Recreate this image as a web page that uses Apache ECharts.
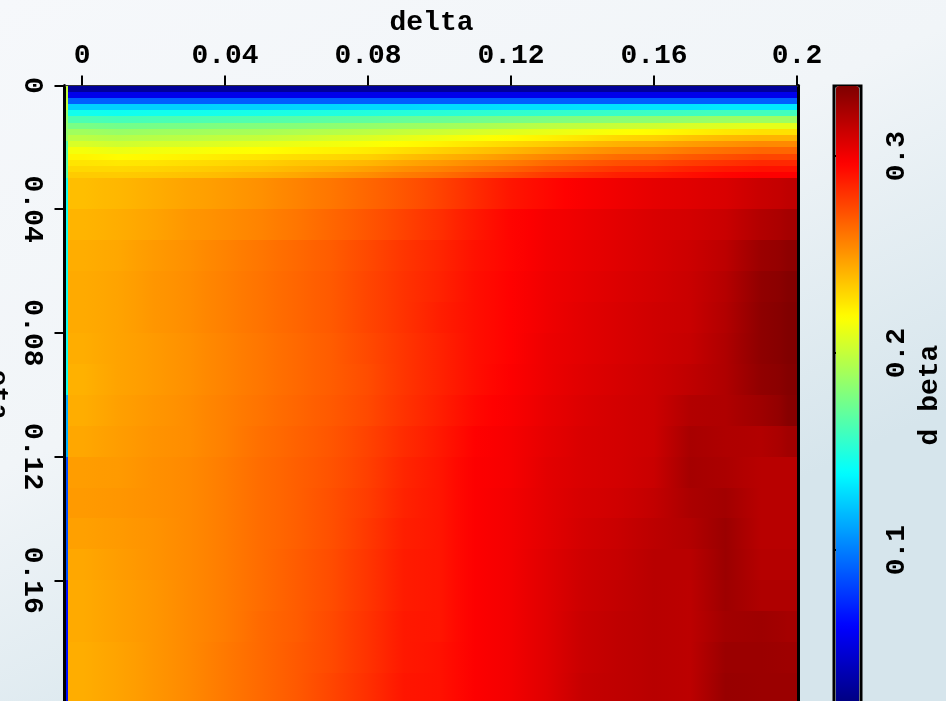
<!DOCTYPE html>
<html><head><meta charset="utf-8">
<script src="https://cdn.jsdelivr.net/npm/echarts@6/dist/echarts.min.js"></script>
<style>html,body{margin:0;padding:0;background:#f3f6f9;}#c{width:946px;height:701px;}</style>
</head><body><div id="c"></div>
<script>
// cell boundaries (delta along x, eta along y)
const xEdges = [-0.0045, -0.004, 0.005, 0.015, 0.025, 0.035, 0.045, 0.055, 0.065, 0.075, 0.085, 0.095,
  0.105, 0.115, 0.125, 0.135, 0.145, 0.155, 0.165, 0.175, 0.185, 0.195, 0.2];
const yEdges = [0, 0.002, 0.004, 0.006, 0.008, 0.010, 0.012, 0.014, 0.016, 0.018, 0.020, 0.022, 0.024, 0.026, 0.028, 0.030,
  0.04, 0.05, 0.06, 0.07, 0.08, 0.09, 0.10, 0.11, 0.12, 0.13, 0.14, 0.15, 0.16, 0.17, 0.18, 0.19, 0.20];
const xTicks = [0, 0.04, 0.08, 0.12, 0.16, 0.2];
const colorbarTicks = [0.1, 0.2, 0.3];
const dbetaMin = 0.0219, dbetaMax = 0.3356;

// d beta values, one array per delta column, top (eta=0) to bottom
const colEdge = [.2,.2,.2,.2,.185,.185,.185,.185,.185,.165,.165,.165,.165,.165,.165, .145,.145, .145,.145,.145,.145,.145,.115,.115,.085,.085,.085,.085,.065,.065,.065,.065];
const col00 = [.03,.055,.09,.125,.145,.163,.177,.189,.197,.206,.215,.221,.226,.23,.234, .238,.241, .243,.244,.244,.243,.242,.243,.245,.248,.249,.247,.245,.244,.244,.243,.243];
const col01 = [.03,.055,.09,.125,.144,.161,.175,.186,.195,.203,.212,.219,.225,.23,.234, .24,.243, .245,.246,.246,.246,.246,.247,.248,.249,.25,.249,.248,.247,.247,.246,.246];
const col02 = [.03,.055,.09,.125,.145,.162,.176,.188,.196,.205,.214,.22,.226,.231,.235, .243,.246, .249,.25,.25,.249,.249,.25,.251,.252,.252,.251,.251,.25,.25,.25,.25];
const col03 = [.03,.055,.09,.125,.145,.163,.177,.189,.197,.206,.215,.222,.228,.233,.237, .246,.25, .252,.253,.253,.252,.252,.253,.253,.254,.254,.254,.254,.254,.254,.254,.254];
const col04 = [.03,.055,.09,.126,.146,.164,.179,.19,.199,.208,.217,.224,.23,.235,.239, .249,.253, .256,.257,.257,.256,.256,.257,.257,.258,.258,.258,.258,.258,.258,.259,.259];
const col05 = [.03,.055,.09,.126,.147,.165,.18,.191,.2,.21,.218,.226,.232,.237,.242, .252,.256, .26,.261,.261,.26,.26,.261,.262,.263,.263,.263,.263,.263,.264,.264,.264];
const col06 = [.03,.055,.09,.127,.148,.166,.181,.193,.202,.212,.22,.228,.235,.24,.245, .256,.26, .264,.265,.265,.264,.264,.265,.266,.267,.267,.267,.268,.268,.268,.269,.269];
const col07 = [.03,.055,.09,.127,.149,.168,.183,.195,.205,.214,.222,.23,.237,.243,.249, .26,.265, .268,.269,.269,.268,.268,.269,.27,.271,.272,.272,.273,.273,.274,.274,.275];
const col08 = [.03,.055,.09,.128,.15,.169,.185,.197,.207,.216,.224,.232,.24,.247,.253, .265,.27, .274,.275,.275,.274,.273,.274,.276,.277,.278,.279,.28,.28,.281,.281,.282];
const col09 = [.03,.055,.09,.128,.151,.171,.187,.2,.21,.219,.228,.237,.245,.252,.258, .27,.276, .28,.281,.281,.28,.28,.281,.283,.285,.286,.287,.288,.288,.289,.289,.29];
const col10 = [.03,.055,.09,.129,.152,.172,.189,.202,.213,.222,.232,.241,.249,.256,.262, .276,.282, .285,.286,.287,.286,.286,.287,.289,.29,.29,.29,.29,.29,.29,.291,.291];
const col11 = [.03,.055,.09,.129,.153,.174,.191,.205,.216,.226,.236,.245,.254,.261,.268, .283,.289, .291,.292,.292,.292,.292,.294,.296,.297,.297,.297,.297,.297,.297,.297,.297];
const col12 = [.03,.055,.09,.13,.154,.176,.194,.208,.219,.23,.24,.25,.258,.266,.273, .29,.295, .295,.296,.296,.296,.297,.298,.299,.299,.3,.3,.3,.3,.3,.3,.3];
const col13 = [.03,.055,.09,.13,.155,.178,.197,.211,.222,.234,.245,.255,.264,.272,.279, .294,.299, .3,.301,.301,.302,.302,.303,.304,.305,.305,.305,.306,.306,.306,.306,.306];
const col14 = [.03,.055,.09,.131,.156,.18,.199,.214,.226,.238,.249,.259,.268,.276,.283, .298,.302, .303,.304,.305,.305,.306,.307,.308,.308,.309,.31,.311,.312,.313,.313,.314];
const col15 = [.03,.055,.09,.131,.157,.182,.201,.217,.23,.242,.253,.263,.272,.28,.287, .301,.305, .306,.307,.308,.308,.309,.31,.31,.31,.311,.313,.314,.315,.316,.316,.316];
const col16 = [.03,.055,.09,.132,.158,.183,.203,.219,.232,.244,.255,.265,.274,.282,.289, .304,.308, .309,.31,.311,.311,.312,.312,.312,.313,.315,.317,.318,.318,.318,.318,.318];
const col17 = [.03,.055,.09,.132,.159,.185,.206,.222,.236,.248,.259,.269,.278,.286,.292, .306,.31, .312,.313,.313,.314,.316,.32,.323,.324,.322,.32,.318,.317,.317,.317,.317];
const col18 = [.03,.055,.09,.133,.16,.187,.208,.225,.239,.251,.262,.272,.281,.289,.295, .308,.313, .317,.319,.32,.321,.321,.321,.321,.322,.325,.327,.327,.326,.325,.327,.328];
const col19 = [.03,.055,.09,.133,.16,.188,.21,.227,.241,.254,.265,.275,.284,.291,.297, .313,.32, .327,.33,.331,.331,.33,.326,.32,.318,.318,.318,.319,.321,.326,.327,.327];
const col20 = [.03,.055,.09,.133,.16,.188,.21,.227,.241,.254,.265,.275,.284,.291,.297, .316,.324, .331,.334,.335,.335,.334,.333,.325,.318,.318,.318,.319,.321,.324,.326,.327];
const columns = [colEdge, col00, col01, col02, col03, col04, col05, col06, col07, col08, col09, col10,
  col11, col12, col13, col14, col15, col16, col17, col18, col19, col20];

const jet = ['#00007f','#0000ff','#007fff','#00ffff','#7fff7f','#ffff00','#ff7f00','#ff0000','#7f0000'];

// cells: [x0, x1, y0, y1, value, leftNeighbour, rightNeighbour]
const cells = [];
columns.forEach(function (col, i) {
  col.forEach(function (v, j) {
    const vl = (i > 1) ? columns[i - 1][j] : v;
    const vr = (i > 0 && i < columns.length - 1) ? columns[i + 1][j] : v;
    cells.push([xEdges[i], xEdges[i + 1], yEdges[j], yEdges[j + 1], v, vl, vr]);
  });
});

function jetColor(v) {
  const t = Math.max(0, Math.min(1, (v - dbetaMin) / (dbetaMax - dbetaMin)));
  return echarts.color.lerp(t, jet);
}

const FONT = 'Liberation Mono';
const txt = { fontFamily: FONT, fontSize: 28, fontWeight: 'bold', color: '#000' };

const chart = echarts.init(document.getElementById('c'), null, { renderer: 'canvas' });
chart.setOption({
  animation: false,
  backgroundColor: {
    type: 'linear', x: 0, y: 0, x2: 0.35, y2: 1,
    colorStops: [
      { offset: 0, color: '#f6f8fb' },
      { offset: 0.55, color: '#f1f5f8' },
      { offset: 1, color: '#d6e5ec' }
    ]
  },
  grid: [
    { left: 66, top: 85.5, width: 731, height: 618.5, show: false, containLabel: false, outerBoundsMode: 'none' },
    { left: 834, top: 86, width: 27, height: 618, show: true, borderColor: '#000', borderWidth: 3,
      backgroundColor: 'transparent', containLabel: false, outerBoundsMode: 'none' }
  ],
  xAxis: [
    {
      gridIndex: 0, type: 'value', position: 'top', min: -0.0045, max: 0.2,
      name: 'delta', nameLocation: 'middle', nameGap: 48, nameTextStyle: txt,
      axisLine: { show: true, onZero: false, lineStyle: { color: '#333', width: 2 } },
      axisTick: { show: true, length: 10, customValues: xTicks, lineStyle: { color: '#000', width: 2 } },
      axisLabel: Object.assign({ margin: 16, customValues: xTicks }, txt),
      splitLine: { show: false }
    },
    { gridIndex: 1, type: 'value', show: false, min: 0, max: 1 }
  ],
  yAxis: [
    {
      gridIndex: 0, type: 'value', inverse: true, min: 0, max: 0.2, interval: 0.04, offset: 1.5,
      name: 'eta', nameLocation: 'middle', nameGap: 52, nameRotate: -90, nameTextStyle: txt,
      axisLine: { show: true, onZero: false, lineStyle: { color: '#000', width: 3 } },
      axisTick: { show: true, length: 10, lineStyle: { color: '#000', width: 2 } },
      axisLabel: Object.assign({ margin: 18, rotate: -90, showMaxLabel: false }, txt),
      splitLine: { show: false }
    },
    {
      gridIndex: 0, type: 'value', position: 'right', inverse: true, min: 0, max: 0.2, offset: 1.5,
      axisLine: { show: true, onZero: false, lineStyle: { color: '#000', width: 3 } },
      axisTick: { show: false }, axisLabel: { show: false }, splitLine: { show: false }
    },
    {
      gridIndex: 1, type: 'value', position: 'right', min: dbetaMin, max: dbetaMax,
      name: 'd beta', nameLocation: 'middle', nameGap: 55, nameRotate: 90, nameTextStyle: txt,
      axisLine: { show: false },
      axisTick: { show: true, length: 8, customValues: colorbarTicks, lineStyle: { color: '#000', width: 2 } },
      axisLabel: Object.assign({ margin: 22, rotate: 90, customValues: colorbarTicks }, txt),
      splitLine: { show: false }
    }
  ],
  visualMap: {
    type: 'continuous', orient: 'vertical', left: 836, top: 86, padding: 0,
    itemWidth: 23, itemHeight: 618, min: dbetaMin, max: dbetaMax,
    dimension: 4, seriesIndex: 0, calculable: false, showLabel: false, text: null,
    hoverLink: false, realtime: false,
    inRange: { color: jet }
  },
  series: [{
    type: 'custom', xAxisIndex: 0, yAxisIndex: 0, clip: true,
    encode: { x: [0, 1], y: [2, 3] },
    data: cells,
    renderItem: function (params, api) {
      const a = api.coord([api.value(0), api.value(2)]);
      const b = api.coord([api.value(1), api.value(3)]);
      const x0 = Math.round(Math.min(a[0], b[0])), x1 = Math.round(Math.max(a[0], b[0]));
      const y0 = Math.round(Math.min(a[1], b[1])), y1 = Math.round(Math.max(a[1], b[1]));
      const v = api.value(4), vl = api.value(5), vr = api.value(6);
      const fill = {
        type: 'linear', x: 0, y: 0, x2: 1, y2: 0,
        colorStops: [
          { offset: 0, color: jetColor((v + vl) / 2) },
          { offset: 0.5, color: api.visual('color') },
          { offset: 1, color: jetColor((v + vr) / 2) }
        ]
      };
      return { type: 'rect', shape: { x: x0, y: y0, width: Math.max(1, x1 - x0), height: Math.max(1, y1 - y0) },
        style: { fill: fill } };
    }
  }]
});
</script></body></html>
